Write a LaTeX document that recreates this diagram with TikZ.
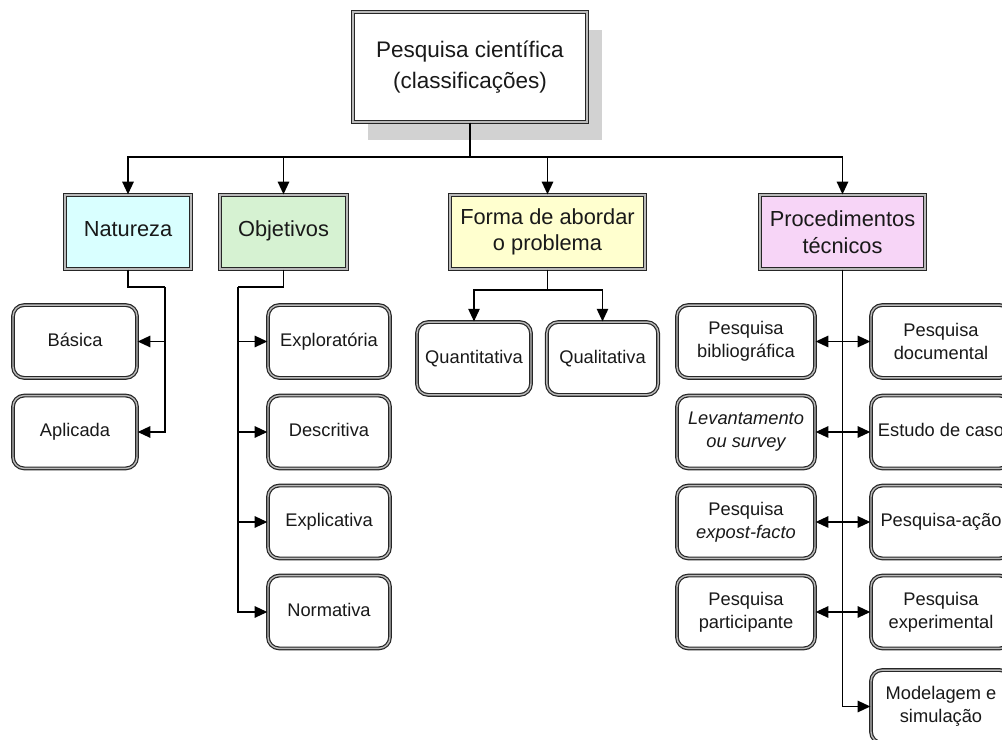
\documentclass[tikz,border=0pt]{standalone}
\usepackage{fontspec}
\setmainfont{Liberation Sans}
\usetikzlibrary{arrows.meta,shadows}

\definecolor{natcor}{HTML}{D9FFFF}
\definecolor{objcor}{HTML}{D6F2D2}
\definecolor{formcor}{HTML}{FFFFCF}
\definecolor{proccor}{HTML}{F7D5F7}

\begin{document}
\begin{tikzpicture}[x=0.025cm, y=-0.025cm, >={Triangle[length=9pt,width=8pt]},
  moldura/.style={draw=black!85, line width=0.85pt, double=gray!55, double distance=1pt,
    text=black!90, align=center, inner sep=0pt},
  raiz/.style={moldura, fill=white, minimum width=5.85cm, minimum height=2.75cm,
    font=\fontsize{16}{22}\selectfont,
    drop shadow={shadow xshift=0.38cm, shadow yshift=-0.45cm, fill=gray!35, opacity=1}},
  categoria/.style={moldura, minimum height=1.85cm, font=\fontsize{15.5}{19}\selectfont},
  folha/.style={moldura, fill=white, rounded corners=0.28cm, minimum height=1.82cm,
    font=\fontsize{13}{16.5}\selectfont},
  linha/.style={text height=0.8em, text depth=0.1em},
  liga/.style={black, line width=1.3pt}]

  \useasboundingbox (0,0) rectangle (1002,740);
  \clip (0,0) rectangle (1002,740);

  % ==========================================
  % RAIZ E CATEGORIAS
  % ==========================================
  \node[raiz] (raiz) at (470,67) {Pesquisa científica\\(classificações)};

  \node[categoria, linha, fill=natcor, minimum width=3.15cm] (nat) at (128,232) {Natureza};
  \node[categoria, linha, fill=objcor, minimum width=3.18cm] (obj) at (283.5,232) {Objetivos};
  \node[categoria, fill=formcor, minimum width=4.88cm] (forma) at (547.5,232) {Forma de abordar\\o problema};
  \node[categoria, fill=proccor, minimum width=4.13cm] (proc) at (842.5,232) {Procedimentos\\técnicos};

  % barramento superior
  \coordinate (bus) at (470,157);
  \draw[liga] (raiz.south) -- (bus);
  \draw[liga, ->] (bus) -| (nat.north);
  \draw[liga, ->] (bus) -| (obj.north);
  \draw[liga, ->] (bus) -| (forma.north);
  \draw[liga, ->] (bus) -| (proc.north);

  % ==========================================
  % NATUREZA
  % ==========================================
  \node[folha, linha, minimum width=3.1cm] (bas) at (75,341.5) {Básica};
  \node[folha, linha, minimum width=3.1cm] (apl) at (75,432) {Aplicada};

  \coordinate (natj) at (165,287);
  \draw[liga] (nat.south) |- (natj);
  \draw[liga, ->] (natj) |- (apl.east);
  \draw[liga, ->] (natj |- bas.east) -- (bas.east);

  % ==========================================
  % OBJETIVOS
  % ==========================================
  \node[folha, linha, minimum width=3.05cm] (explo) at (329,341.5) {Exploratória};
  \node[folha, linha, minimum width=3.05cm] (desc) at (329,432) {Descritiva};
  \node[folha, linha, minimum width=3.05cm] (expli) at (329,522) {Explicativa};
  \node[folha, linha, minimum width=3.05cm] (norm) at (329,612) {Normativa};

  \coordinate (objj) at (238,287);
  \draw[liga] (obj.south) |- (objj);
  \draw[liga, ->] (objj) |- (norm.west);
  \draw[liga, ->] (objj |- explo.west) -- (explo.west);
  \draw[liga, ->] (objj |- desc.west) -- (desc.west);
  \draw[liga, ->] (objj |- expli.west) -- (expli.west);

  % ==========================================
  % FORMA DE ABORDAR O PROBLEMA
  % ==========================================
  \node[folha, linha, minimum width=2.85cm] (quan) at (474,358.5) {Quantitativa};
  \node[folha, linha, minimum width=2.78cm] (qual) at (602.5,358.5) {Qualitativa};

  \coordinate (formj) at (547.5,290);
  \draw[liga] (forma.south) -- (formj);
  \draw[liga, ->] (formj) -| (quan.north);
  \draw[liga, ->] (formj) -| (qual.north);

  % ==========================================
  % PROCEDIMENTOS TÉCNICOS
  % ==========================================
  \node[folha, minimum width=3.45cm] (bib) at (746,341.5) {Pesquisa\\bibliográfica};
  \node[folha, minimum width=3.45cm] (lev) at (746,432) {\itshape Levantamento\\\itshape ou survey};
  \node[folha, minimum width=3.45cm] (expost) at (746,522) {Pesquisa\\\textit{expost-facto}};
  \node[folha, minimum width=3.45cm] (part) at (746,612) {Pesquisa\\participante};

  \node[folha, minimum width=3.5cm] (doc) at (941,341.5) {Pesquisa\\documental};
  \node[folha, linha, minimum width=3.5cm] (caso) at (941,432) {Estudo de caso};
  \node[folha, linha, minimum width=3.5cm] (acao) at (941,522) {Pesquisa-ação};
  \node[folha, minimum width=3.5cm] (expe) at (941,612) {Pesquisa\\experimental};
  \node[folha, minimum width=3.5cm] (mod) at (941,706.5) {Modelagem e\\simulação};

  \draw[liga, ->] (proc.south) |- (mod.west);
  \draw[liga, <->] (bib.east) -- (doc.west);
  \draw[liga, <->] (lev.east) -- (caso.west);
  \draw[liga, <->] (expost.east) -- (acao.west);
  \draw[liga, <->] (part.east) -- (expe.west);

\end{tikzpicture}
\end{document}
